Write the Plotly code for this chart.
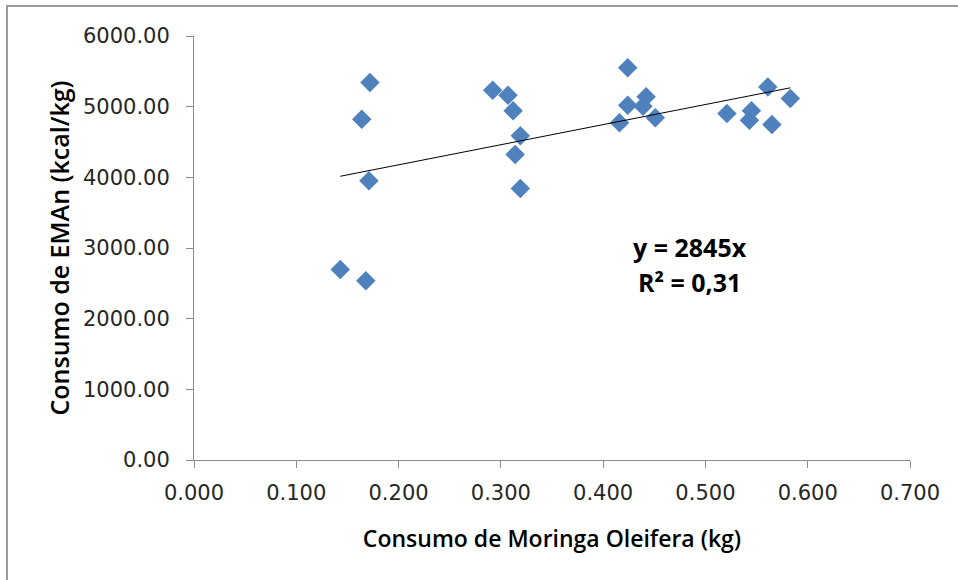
import plotly.graph_objects as go
import numpy as np

# Data
moringa_kg = [0.172, 0.164, 0.171, 0.143, 0.168,
              0.292, 0.307, 0.312, 0.319, 0.314, 0.319,
              0.424, 0.424, 0.442, 0.439, 0.416, 0.451,
              0.561, 0.583, 0.521, 0.545, 0.543, 0.565]
eman_kcal = [5342, 4823, 3950, 2697, 2536,
             5233, 5163, 4941, 4587, 4324, 3843,
             5549, 5021, 5139, 5007, 4771, 4842,
             5280, 5116, 4903, 4941, 4809, 4748]

trend_slope = 2845
trend_intercept = 3608
eq_text = "y = 2845x"
r2_text = "R² = 0,31"

x_ticks = [0.0, 0.1, 0.2, 0.3, 0.4, 0.5, 0.6, 0.7]
y_ticks = [0, 1000, 2000, 3000, 4000, 5000, 6000]

tx = np.array([min(moringa_kg), max(moringa_kg)])
ty = trend_slope * tx + trend_intercept

L, R, T, B = 194, 910, 36, 460
W, H = 958, 580
pw, ph = R - L, B - T

fig = go.Figure()
fig.add_trace(go.Scatter(
    x=moringa_kg, y=eman_kcal, mode="markers",
    marker=dict(symbol="diamond", size=15, color="#4F81BD",
                line=dict(width=0)),
    showlegend=False))
fig.add_trace(go.Scatter(
    x=tx, y=ty, mode="lines",
    line=dict(color="#000000", width=1), showlegend=False))

ann_font = dict(family="Open Sans", size=25, color="#000000", weight=700)
fig.add_annotation(x=(690 - L) / pw, y=(B - 247) / ph, xref="paper", yref="paper",
                   xanchor="center", yanchor="middle",
                   text=eq_text, showarrow=False, font=ann_font)
fig.add_annotation(x=(689 - L) / pw, y=(B - 282) / ph, xref="paper", yref="paper",
                   xanchor="center", yanchor="middle",
                   text=r2_text, showarrow=False, font=ann_font)

axis_common = dict(showgrid=False, zeroline=False, showline=True,
                   linecolor="#8c8c8c", linewidth=1, ticks="outside",
                   ticklen=7, tickcolor="#8c8c8c",
                   tickfont=dict(family="DejaVu Sans", size=21, color="#262626"))

fig.update_xaxes(range=[0, 0.7], tickvals=x_ticks,
                 ticktext=[f"{v:.3f}" for v in x_ticks],
                 ticklabelstandoff=7,
                 title=dict(text="Consumo de Moringa Oleifera (kg)",
                            font=dict(family="Open Sans", size=23, color="#000000", weight=600),
                            standoff=26),
                 **axis_common)
fig.update_yaxes(range=[0, 6000], tickvals=y_ticks,
                 ticktext=[f"{v:.2f}" for v in y_ticks],
                 ticklabelstandoff=12,
                 title=dict(text="Consumo de EMAn (kcal/kg)",
                            font=dict(family="Open Sans", size=25, color="#000000", weight=600),
                            standoff=6),
                 **axis_common)

fig.update_layout(
    width=W, height=H,
    margin=dict(l=L, r=W - R, t=T, b=H - B),
    plot_bgcolor="white", paper_bgcolor="white",
    shapes=[dict(type="rect", xref="paper", yref="paper",
                 x0=(7 - L) / pw, x1=(965 - L) / pw,
                 y0=(B - 590) / ph, y1=(B - 6) / ph,
                 line=dict(color="#9a9a9a", width=2), layer="below")]
)

fig.write_html("out.html", config={"displayModeBar": False},
               post_script="document.body.style.margin='0px';")
